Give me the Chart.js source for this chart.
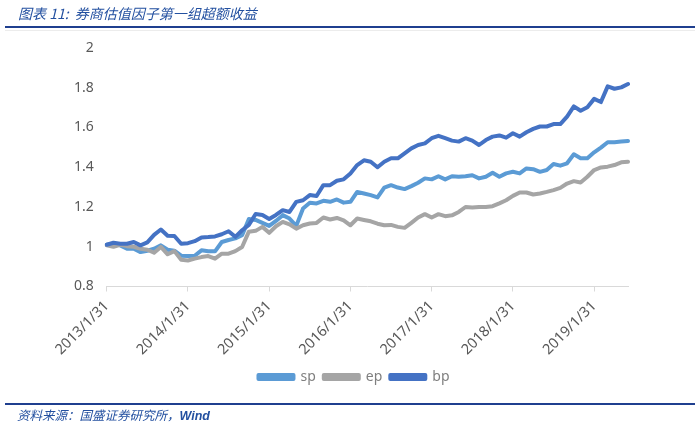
<!DOCTYPE html>
<html>
<head>
<meta charset="utf-8">
<script src="https://cdn.jsdelivr.net/npm/chart.js@4/dist/chart.umd.min.js"></script>
<style>
  html, body { margin: 0; padding: 0; background: #fff; }
  #wrap { position: relative; width: 700px; height: 427px; overflow: hidden; background: #fff; }
  #c { position: absolute; left: 0; top: 0; }
  .title { position: absolute; left: 18px; top: 3px; font-family: "Noto Sans CJK SC", sans-serif; font-style: italic; font-size: 14px; color: #2350a0; white-space: nowrap; }
  .rule { position: absolute; left: 5px; width: 690px; height: 2px; background: #1f3f8f; }
  .frame { position: absolute; left: 5px; top: 30px; width: 690px; height: 1px; background: #ececec; }
  .source { position: absolute; left: 17px; top: 405px; font-family: "Noto Sans CJK SC", sans-serif; font-style: italic; font-size: 12.5px; color: #2350a0; white-space: nowrap; }
  .source b { font-family: "Liberation Sans", Arial, sans-serif; font-weight: bold; }
</style>
</head>
<body>
<div id="wrap">
  <canvas id="c" width="700" height="427"></canvas>
  <div class="frame"></div>
  <div class="title">图表 11:&nbsp; 券商估值因子第一组超额收益</div>
  <div class="rule" style="top:26px"></div>
  <div class="rule" style="top:403px"></div>
  <div class="source">资料来源：国盛证券研究所，<b>Wind</b></div>
</div>
<script>
// Monthly categories 2013/1 .. 2019/6 (month-end dates)
const categories = [];
for (let y = 2013; y <= 2019; y++) {
  for (let m = 1; m <= 12; m++) {
    if (y === 2019 && m > 6) break;
    categories.push(y + '/' + m + '/' + new Date(y, m, 0).getDate());
  }
}
const yTicks = [0.8, 1, 1.2, 1.4, 1.6, 1.8, 2];

const sp = [1.01,1.015,1.007,0.99,0.99,0.973,0.98,0.99,1.007,0.985,0.98,0.955,
  0.953,0.955,0.982,0.977,0.977,1.024,1.034,1.042,1.058,1.14,1.135,1.12,
  1.105,1.13,1.159,1.142,1.105,1.192,1.221,1.218,1.231,1.226,1.238,1.222,
  1.226,1.276,1.268,1.26,1.248,1.298,1.31,1.298,1.29,1.305,1.322,1.344,
  1.339,1.355,1.339,1.355,1.352,1.355,1.36,1.344,1.352,1.372,1.352,1.369,
  1.377,1.369,1.394,1.39,1.377,1.386,1.416,1.408,1.42,1.465,1.445,1.445,
  1.475,1.499,1.526,1.526,1.529,1.532];
const ep = [1.007,1.0,1.01,1.003,1.0,0.99,0.985,0.97,0.999,0.962,0.978,0.935,
  0.931,0.94,0.948,0.953,0.94,0.965,0.965,0.978,0.999,1.076,1.08,1.1,
  1.07,1.103,1.125,1.113,1.091,1.108,1.117,1.12,1.147,1.137,1.145,1.133,
  1.108,1.142,1.135,1.128,1.116,1.108,1.11,1.1,1.095,1.12,1.147,1.164,
  1.147,1.164,1.154,1.158,1.175,1.2,1.197,1.2,1.2,1.204,1.218,1.234,
  1.256,1.273,1.273,1.263,1.268,1.276,1.285,1.296,1.318,1.33,1.323,1.352,
  1.386,1.399,1.403,1.411,1.425,1.428];
const bp = [1.01,1.02,1.015,1.015,1.024,1.007,1.022,1.06,1.087,1.055,1.054,1.015,
  1.018,1.028,1.047,1.049,1.052,1.063,1.078,1.05,1.083,1.11,1.165,1.16,
  1.14,1.16,1.184,1.175,1.226,1.234,1.26,1.255,1.31,1.31,1.332,1.339,
  1.369,1.411,1.435,1.428,1.40,1.428,1.445,1.445,1.47,1.495,1.512,1.52,
  1.546,1.558,1.546,1.534,1.529,1.546,1.534,1.512,1.537,1.554,1.56,1.549,
  1.571,1.554,1.576,1.593,1.605,1.605,1.617,1.617,1.655,1.706,1.684,1.702,
  1.744,1.728,1.807,1.795,1.802,1.819];

const seriesNames = ['sp', 'ep', 'bp'];
const seriesColors = ['#5b9bd5', '#a5a5a5', '#4472c4'];
const seriesData = [sp, ep, bp];
const drawOrder = [2, 1, 0];

const fam = '"Noto Sans", "DejaVu Sans", sans-serif';

const legendShift = {
  id: 'legendShift',
  afterLayout(chart) {
    const lg = chart.legend;
    if (lg) { lg.left += 40; lg.right += 40; }
  }
};

new Chart(document.getElementById('c'), {
  type: 'line',
  data: {
    labels: categories,
    datasets: seriesNames.map((n, i) => ({
      label: n,
      data: seriesData[i],
      borderColor: seriesColors[i],
      backgroundColor: seriesColors[i],
      borderWidth: 4,
      pointRadius: 0,
      tension: 0,
      fill: false,
      borderJoinStyle: 'round',
      borderCapStyle: 'round',
      order: drawOrder[i]
    }))
  },
  plugins: [legendShift],
  options: {
    responsive: false,
    animation: false,
    devicePixelRatio: 1,
    layout: { padding: { top: 48, right: 72, left: 0, bottom: 33 } },
    plugins: {
      tooltip: { enabled: false },
      legend: {
        position: 'bottom',
        labels: {
          sort: (a, b) => a.datasetIndex - b.datasetIndex,
          boxWidth: 35,
          boxHeight: 4,
          padding: 8,
          color: '#7f7f7f',
          font: { family: fam, size: 14 }
        }
      }
    },
    scales: {
      x: {
        type: 'category',
        offset: false,
        afterFit: s => { s.height = 75.5; },
        grid: {
          display: true,
          drawOnChartArea: false,
          drawTicks: true,
          tickLength: 5,
          color: ctx => (ctx.index % 12 === 0 ? '#d9d9d9' : 'rgba(0,0,0,0)')
        },
        border: { display: true, color: '#d9d9d9', width: 1 },
        ticks: {
          autoSkip: false,
          minRotation: 45,
          maxRotation: 45,
          padding: 6,
          color: '#595959',
          font: { family: fam, size: 14.5 },
          callback: function (v, idx) {
            const lab = categories[idx];
            return lab.split('/')[1] === '1' ? lab : '';
          }
        }
      },
      y: {
        min: 0.8,
        max: 2,
        afterFit: s => { s.width = 106.7; },
        afterBuildTicks: s => { s.ticks = yTicks.map(v => ({ value: v })); },
        grid: { display: false, drawTicks: false },
        border: { display: false },
        ticks: {
          padding: 13,
          color: '#595959',
          font: { family: fam, size: 14 },
          callback: v => String(Math.round(v * 10) / 10)
        }
      }
    }
  }
});
</script>
</body>
</html>
